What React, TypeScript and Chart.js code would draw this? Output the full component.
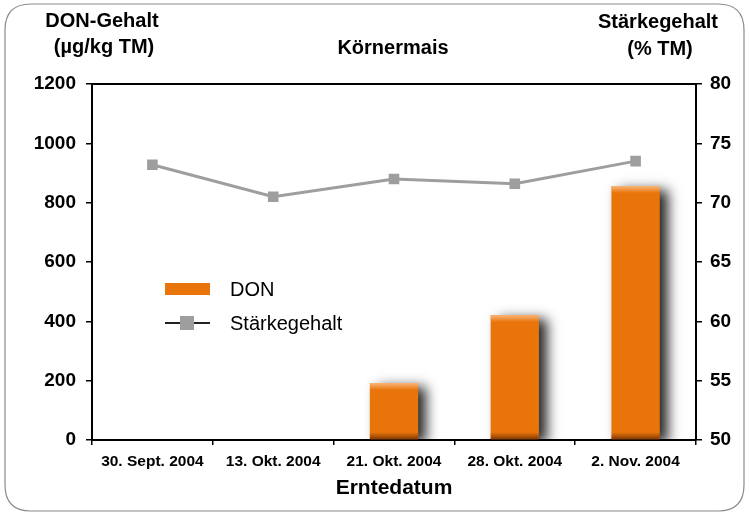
import React, { useEffect, useRef } from "react";
import { Chart, registerables } from "chart.js";

Chart.register(...registerables);

const categories = ["30. Sept. 2004", "13. Okt. 2004", "21. Okt. 2004", "28. Okt. 2004", "2. Nov. 2004"];
const donValues = [0, 0, 192, 421, 856];
const staerkeValues = [73.2, 70.5, 72.0, 71.6, 73.5];
const leftTitle = ["DON-Gehalt", "(µg/kg TM)"];
const rightTitle = ["Stärkegehalt", "(% TM)"];
const chartTitle = "Körnermais";
const xTitle = "Erntedatum";
const legendDon = "DON";
const legendStaerke = "Stärkegehalt";

const FONT = '"Liberation Sans", Arial, Helvetica, sans-serif';
const ORANGE = "#E8740A";
const GREY = "#9E9E9E";

const decorPlugin = {
  id: "decor",
  beforeDraw(chart: any) {
    const ctx = chart.ctx;
    ctx.save();
    ctx.fillStyle = "#fff";
    ctx.fillRect(0, 0, chart.width, chart.height);
    const x = 5, y = 4, w = 739, h = 507, r = 26;
    ctx.beginPath();
    ctx.moveTo(x + r, y);
    ctx.lineTo(x + w - r, y);
    ctx.quadraticCurveTo(x + w, y, x + w, y + r);
    ctx.lineTo(x + w, y + h - r);
    ctx.quadraticCurveTo(x + w, y + h, x + w - r, y + h);
    ctx.lineTo(x + r, y + h);
    ctx.quadraticCurveTo(x, y + h, x, y + h - r);
    ctx.lineTo(x, y + r);
    ctx.quadraticCurveTo(x, y, x + r, y);
    ctx.strokeStyle = "#8a8a8a";
    ctx.lineWidth = 1.2;
    ctx.stroke();
    ctx.restore();
  },
  afterDraw(chart: any) {
    const ctx = chart.ctx;
    const a = chart.chartArea;
    ctx.save();
    ctx.strokeStyle = "#000";
    ctx.lineWidth = 2;
    ctx.beginPath();
    ctx.moveTo(a.left, a.top);
    ctx.lineTo(a.right, a.top);
    ctx.stroke();
    ctx.fillStyle = "#000";
    ctx.font = `bold 20px ${FONT}`;
    ctx.textAlign = "center";
    ctx.textBaseline = "middle";
    ctx.fillText(leftTitle[0], 102, 21);
    ctx.fillText(leftTitle[1], 104, 47);
    ctx.fillText(rightTitle[0], 658, 22);
    ctx.fillText(rightTitle[1], 660, 49);
    ctx.fillText(chartTitle, 393, 48);
    ctx.fillStyle = ORANGE;
    ctx.fillRect(165, 283, 45, 12);
    ctx.strokeStyle = "#222";
    ctx.lineWidth = 2;
    ctx.beginPath();
    ctx.moveTo(165, 323);
    ctx.lineTo(210, 323);
    ctx.stroke();
    ctx.fillStyle = GREY;
    ctx.fillRect(180, 316, 14, 14);
    ctx.fillStyle = "#000";
    ctx.font = `20px ${FONT}`;
    ctx.textAlign = "left";
    ctx.fillText(legendDon, 230, 290);
    ctx.fillText(legendStaerke, 230, 324);
    ctx.restore();
  },
  beforeDatasetDraw(chart: any, args: any) {
    if (args.index === 0) {
      const ctx = chart.ctx;
      ctx.save();
      ctx.shadowColor = "rgba(0,0,0,0.85)";
      ctx.shadowBlur = 12;
      ctx.shadowOffsetX = 8;
      ctx.shadowOffsetY = 4;
    }
  },
  afterDatasetDraw(chart: any, args: any) {
    if (args.index === 0) {
      const ctx = chart.ctx;
      ctx.restore();
      ctx.save();
      const meta = chart.getDatasetMeta(0);
      meta.data.forEach((bar: any) => {
        const { x, y, base, width } = bar.getProps(["x", "y", "base", "width"], true);
        const h = base - y;
        if (h <= 1) return;
        const left = x - width / 2;
        const gTop = ctx.createLinearGradient(0, y, 0, y + 7);
        gTop.addColorStop(0, "rgba(255,205,160,0.75)");
        gTop.addColorStop(1, "rgba(255,205,160,0)");
        ctx.fillStyle = gTop;
        ctx.fillRect(left, y, width, Math.min(7, h));
        const gBot = ctx.createLinearGradient(0, base - 7, 0, base);
        gBot.addColorStop(0, "rgba(90,35,0,0)");
        gBot.addColorStop(1, "rgba(90,35,0,0.7)");
        ctx.fillStyle = gBot;
        ctx.fillRect(left, base - Math.min(7, h), width, Math.min(7, h));
      });
      ctx.restore();
    }
  },
};

export default function App() {
  const ref = useRef<HTMLCanvasElement>(null);
  useEffect(() => {
    const canvas = ref.current!;
    const tickFont = { family: FONT, weight: "bold" as const, size: 19 };
    const chart = new Chart(canvas, {
      type: "bar",
      data: {
        labels: categories,
        datasets: [
          {
            type: "bar",
            label: legendDon,
            data: donValues,
            backgroundColor: ORANGE,
            borderWidth: 0,
            barPercentage: 0.8,
            categoryPercentage: 0.5,
            yAxisID: "y",
            order: 2,
          },
          {
            type: "line",
            label: legendStaerke,
            data: staerkeValues,
            borderColor: GREY,
            backgroundColor: GREY,
            borderWidth: 3,
            pointStyle: "rect",
            pointRadius: 7.5,
            pointBorderWidth: 0,
            yAxisID: "y1",
            order: 1,
          } as any,
        ],
      },
      options: {
        animation: false,
        responsive: false,
        layout: { padding: { top: 84, left: 0, right: 0, bottom: 10 } },
        plugins: { legend: { display: false }, tooltip: { enabled: false } },
        scales: {
          x: {
            grid: { display: true, drawOnChartArea: false, offset: true, tickLength: 5, color: "#000", lineWidth: 1.5 },
            border: { display: true, color: "#000", width: 2 },
            ticks: { color: "#000", font: { family: FONT, weight: "bold", size: 15.5 }, padding: 7, maxRotation: 0, autoSkip: false },
            title: { display: true, text: xTitle, color: "#000", font: { family: FONT, weight: "bold", size: 21 } },
            afterFit: (s: any) => { s.height = 65; },
          },
          y: {
            position: "left",
            min: 0,
            max: 1200,
            ticks: { stepSize: 200, color: "#000", font: tickFont, padding: 10, callback: (v: any) => String(v) },
            grid: { drawOnChartArea: false, tickLength: 6, color: "#000", lineWidth: 1.5 },
            border: { display: true, color: "#000", width: 2 },
            afterFit: (s: any) => { s.width = 92; },
          },
          y1: {
            position: "right",
            min: 50,
            max: 80,
            ticks: { stepSize: 5, color: "#000", font: tickFont, padding: 8, callback: (v: any) => String(v) },
            grid: { drawOnChartArea: false, tickLength: 6, color: "#000", lineWidth: 1.5 },
            border: { display: true, color: "#000", width: 2 },
            afterFit: (s: any) => { s.width = 53; },
          },
        },
      },
      plugins: [decorPlugin],
    });
    return () => chart.destroy();
  }, []);
  return (
    <div style={{ position: "fixed", left: 0, top: 0, width: 749, height: 515, background: "#fff" }}>
      <canvas ref={ref} width={749} height={515} style={{ display: "block" }} />
    </div>
  );
}
